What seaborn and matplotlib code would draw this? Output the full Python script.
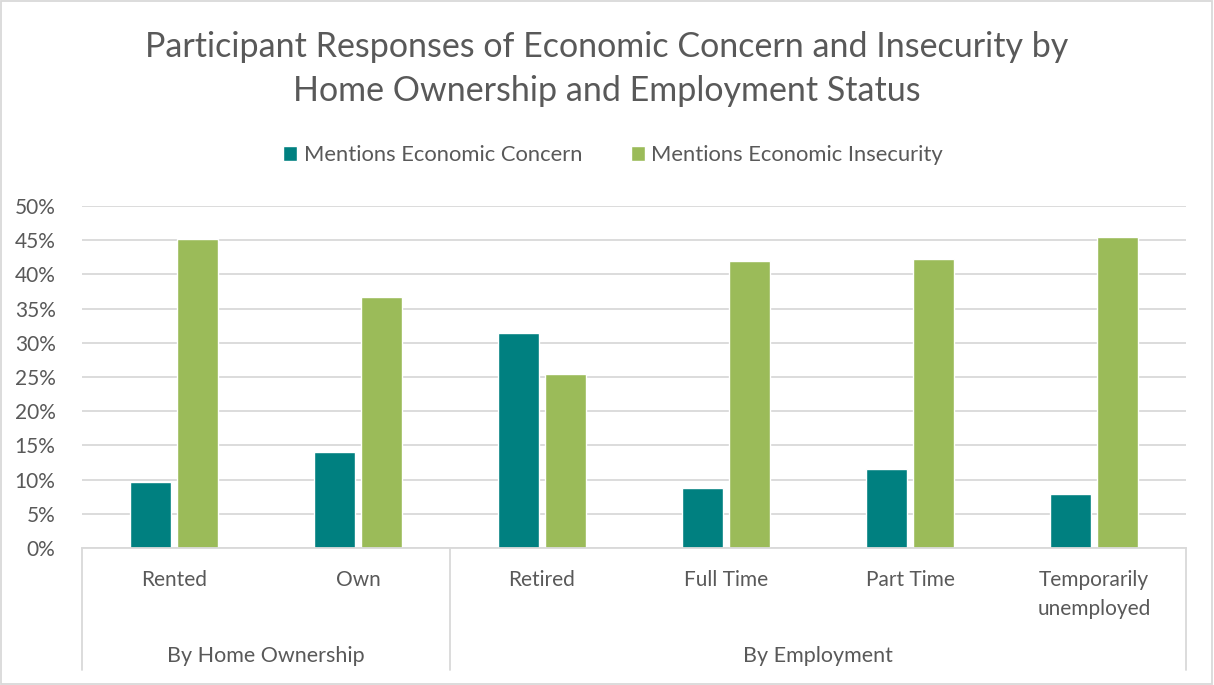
import matplotlib
matplotlib.use("Agg")
import matplotlib.pyplot as plt
import seaborn as sns
import pandas as pd
from matplotlib.patches import Rectangle
from matplotlib.ticker import PercentFormatter

categories = ["Rented", "Own", "Retired", "Full Time", "Part Time", "Temporarily\nunemployed"]
groups = ["By Home Ownership", "By Employment"]
group_sizes = [2, 4]
concern = [0.096, 0.141, 0.315, 0.088, 0.115, 0.079]
insecurity = [0.452, 0.367, 0.254, 0.420, 0.423, 0.455]
series = ["Mentions Economic Concern", "Mentions Economic Insecurity"]
colors = ["#008080", "#9BBB59"]

df = pd.DataFrame({
    "cat": categories * 2,
    "val": concern + insecurity,
    "series": [series[0]] * len(categories) + [series[1]] * len(categories),
})

sns.set_theme(style="white")
plt.rcParams['font.family'] = ['Lato', 'DejaVu Sans']
txt = "#595959"

fig = plt.figure(figsize=(12.14, 6.85), dpi=100)
ax = fig.add_axes([82/1214, 1-548/685, (1186-82)/1214, (548-206)/685])

sns.barplot(data=df, x="cat", y="val", hue="series", order=categories, hue_order=series,
            palette=colors, width=0.51, gap=0.12, ax=ax, saturation=1, legend=True)

ax.set_ylim(0, 0.5)
ax.set_xlim(-0.5, len(categories) - 0.5)
ax.set_yticks([i * 0.05 for i in range(11)])
ax.yaxis.set_major_formatter(PercentFormatter(1.0, decimals=0))
ax.grid(axis="y", color="#D9D9D9", lw=1.3)
ax.set_axisbelow(True)
for s in ["top", "right", "left"]:
    ax.spines[s].set_visible(False)
ax.spines["bottom"].set_color("#D9D9D9")
ax.spines["bottom"].set_linewidth(1.3)
ax.set_xlabel("")
ax.set_ylabel("")
ax.tick_params(axis="both", length=0, labelsize=15, colors=txt, pad=19)
ax.tick_params(axis="x", pad=16)
ax.set_xticks(range(len(categories)))
ax.set_xticklabels(categories, va="top", linespacing=1.55)
for t in ax.get_yticklabels():
    t.set_color(txt)

# group separators and labels
trans = ax.get_xaxis_transform()
ybot = -(670 - 548) / (548 - 206)
pos = -0.5
ax.plot([pos, pos], [0, ybot], transform=trans, color="#D9D9D9", lw=1.3, clip_on=False)
for g, n in zip(groups, group_sizes):
    center = pos + n / 2
    ax.text(center, -(656 - 548) / (548 - 206), g, transform=trans, ha="center", va="center",
            fontsize=15.5, color=txt)
    pos += n
    ax.plot([pos, pos], [0, ybot], transform=trans, color="#D9D9D9", lw=1.3, clip_on=False)

leg = ax.legend(loc="center", bbox_to_anchor=((613 - 82) / 1104, 1 + (206 - 155) / (548 - 206)), ncol=2,
                frameon=False, fontsize=15.8, handlelength=0.65, handleheight=0.65,
                columnspacing=2.2, handletextpad=0.3)
for t in leg.get_texts():
    t.set_color(txt)

fig.text(0.5, 1 - 69/685, "Participant Responses of Economic Concern and Insecurity by\nHome Ownership and Employment Status",
         ha="center", va="center", fontsize=24.5, color=txt, linespacing=1.45)

fig.patches.append(Rectangle((0.001, 0.002), 0.997, 0.996, transform=fig.transFigure,
                             fill=False, edgecolor="#D9D9D9", lw=1.3))

fig.savefig("out.png", dpi=100)
